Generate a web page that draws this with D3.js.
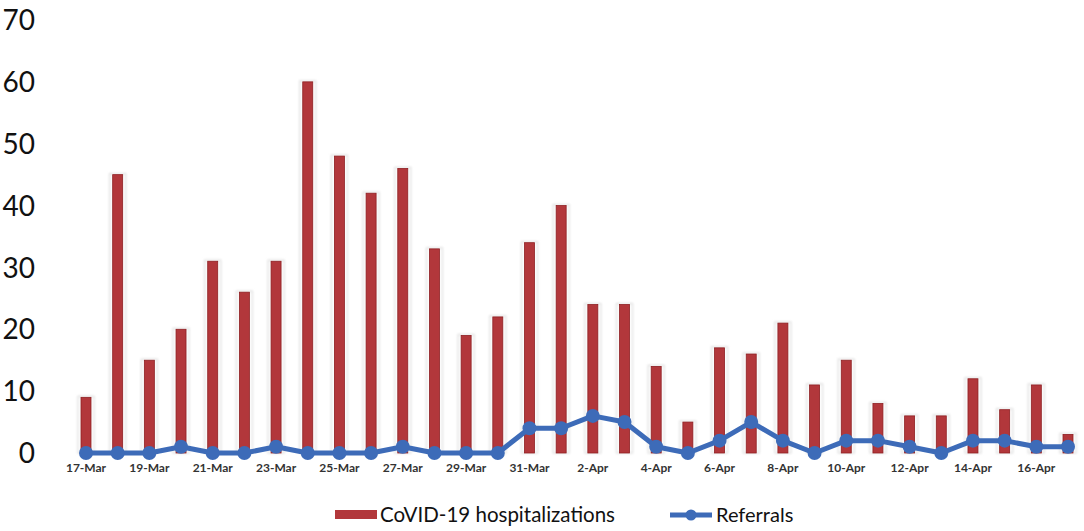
<!DOCTYPE html>
<html>
<head>
<meta charset="utf-8">
<script src="https://cdn.jsdelivr.net/npm/d3@7"></script>
<style>
  html, body { margin: 0; padding: 0; background: #fff; }
  svg { display: block; }
</style>
</head>
<body>
<svg id="chart" width="1084" height="531"></svg>
<script>
const dates = ["17-Mar","18-Mar","19-Mar","20-Mar","21-Mar","22-Mar","23-Mar","24-Mar","25-Mar","26-Mar",
  "27-Mar","28-Mar","29-Mar","30-Mar","31-Mar","1-Apr","2-Apr","3-Apr","4-Apr","5-Apr","6-Apr","7-Apr",
  "8-Apr","9-Apr","10-Apr","11-Apr","12-Apr","13-Apr","14-Apr","15-Apr","16-Apr","17-Apr"];
const hospitalizations = [9,45,15,20,31,26,31,60,48,42,46,33,19,22,34,40,24,24,14,5,17,16,21,11,15,8,6,6,12,7,11,3];
const referrals = [0,0,0,1,0,0,1,0,0,0,1,0,0,0,4,4,6,5,1,0,2,5,2,0,2,2,1,0,2,2,1,1];
const yTicks = [0,10,20,30,40,50,60,70];
const seriesNames = ["CoVID-19 hospitalizations","Referrals"];

const barColor = "#B2373B", barStroke = "#8E1F22", lineColor = "#3D6BB8";
const svg = d3.select("#chart");

const x = d3.scalePoint().domain(dates).range([86, 1068]);
const y = d3.scaleLinear().domain([0, 70]).range([453, 20]);

const defs = svg.append("defs");
const f = defs.append("filter").attr("id","glow").attr("x","-100%").attr("width","300%");
f.append("feGaussianBlur").attr("stdDeviation", 1.0);

// y tick labels
svg.append("g").selectAll("text").data(yTicks).join("text")
  .attr("x", 35).attr("y", d => y(d)).attr("dy", "0.36em")
  .attr("text-anchor", "end")
  .style("font-family", "Lato, 'Open Sans', sans-serif").style("font-size", "28px").attr("fill", "#111")
  .text(d => d);

const bw = 10;
// bar glow
svg.append("g").selectAll("rect").data(hospitalizations).join("rect")
  .attr("x", (d,i) => x(dates[i]) - bw/2 - 3).attr("y", d => y(d) - 1)
  .attr("width", bw + 6).attr("height", d => y(0) - y(d) + 1)
  .attr("fill", "none").attr("stroke", "#dcdcdc").attr("stroke-width", 1.2)
  .attr("filter", "url(#glow)");
// bars
svg.append("g").selectAll("rect").data(hospitalizations).join("rect")
  .attr("x", (d,i) => x(dates[i]) - bw/2).attr("y", d => y(d))
  .attr("width", bw).attr("height", d => y(0) - y(d))
  .attr("fill", barColor).attr("stroke", barStroke).attr("stroke-width", 0.8);

// line
const line = d3.line().x((d,i) => x(dates[i])).y(d => y(d));
svg.append("path").datum(referrals).attr("d", line)
  .attr("fill", "none").attr("stroke", lineColor).attr("stroke-width", 5).attr("stroke-linejoin", "round");
svg.append("g").selectAll("circle").data(referrals).join("circle")
  .attr("cx", (d,i) => x(dates[i])).attr("cy", d => y(d)).attr("r", 7)
  .attr("fill", lineColor);

// x labels
svg.append("g").selectAll("text").data(dates.filter((d,i) => i % 2 === 0)).join("text")
  .attr("x", d => x(d)).attr("y", 472)
  .attr("text-anchor", "middle")
  .style("font-family", "Lato, 'Open Sans', sans-serif").style("font-size", "12px").style("font-weight", "bold")
  .attr("fill", "#333")
  .text(d => d);

// legend
const lg = svg.append("g");
lg.append("rect").attr("x", 335).attr("y", 510).attr("width", 42).attr("height", 9).attr("fill", barColor);
lg.append("text").attr("x", 380).attr("y", 522)
  .style("font-family", "Lato, 'Open Sans', sans-serif").style("font-size", "20.5px").attr("fill", "#111")
  .text(seriesNames[0]);
lg.append("line").attr("x1", 670).attr("x2", 712).attr("y1", 515).attr("y2", 515)
  .attr("stroke", lineColor).attr("stroke-width", 5);
lg.append("circle").attr("cx", 691).attr("cy", 515).attr("r", 5.5).attr("fill", lineColor);
lg.append("text").attr("x", 716).attr("y", 522)
  .style("font-family", "Lato, 'Open Sans', sans-serif").style("font-size", "20px").attr("fill", "#111")
  .text(seriesNames[1]);
</script>
</body>
</html>
